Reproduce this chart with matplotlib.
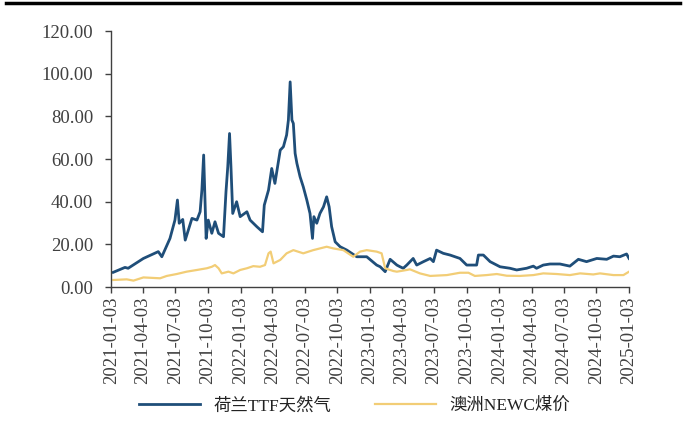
import pandas as pd
import matplotlib.pyplot as plt
import matplotlib.dates as mdates
from matplotlib.lines import Line2D

plt.rcParams['font.family'] = ['Liberation Serif', 'Noto Sans CJK SC']

# 荷兰TTF天然气
ttf_dates = [
    "2021-01-09", "2021-02-11", "2021-02-20", "2021-04-04", "2021-05-16", "2021-05-26",
    "2021-06-18", "2021-07-02", "2021-07-09", "2021-07-14", "2021-07-24", "2021-07-31",
    "2021-08-19", "2021-09-02", "2021-09-11", "2021-09-16", "2021-09-21", "2021-09-28",
    "2021-10-04", "2021-10-14", "2021-10-23", "2021-11-02", "2021-11-16", "2021-11-23",
    "2021-11-28", "2021-12-03", "2021-12-07", "2021-12-12", "2021-12-23", "2022-01-02",
    "2022-01-21", "2022-01-30", "2022-02-18", "2022-03-06", "2022-03-11", "2022-03-23",
    "2022-04-01", "2022-04-10", "2022-04-25", "2022-05-04", "2022-05-13", "2022-05-18",
    "2022-05-23", "2022-05-28", "2022-06-01", "2022-06-06", "2022-06-11", "2022-06-20",
    "2022-06-29", "2022-07-09", "2022-07-18", "2022-07-25", "2022-07-29", "2022-08-06",
    "2022-08-15", "2022-08-25", "2022-09-03", "2022-09-10", "2022-09-17", "2022-09-27",
    "2022-10-11", "2022-10-30", "2022-11-27", "2022-12-25", "2023-01-22", "2023-02-01",
    "2023-02-15", "2023-03-01", "2023-03-20", "2023-03-29", "2023-04-07", "2023-04-17",
    "2023-05-05", "2023-05-15", "2023-06-03", "2023-06-22", "2023-07-01", "2023-07-10",
    "2023-07-29", "2023-08-17", "2023-09-14", "2023-10-03", "2023-10-31", "2023-11-05",
    "2023-11-19", "2023-12-08", "2024-01-05", "2024-02-02", "2024-02-21", "2024-03-20",
    "2024-04-08", "2024-04-17", "2024-05-06", "2024-05-25", "2024-06-22", "2024-07-20",
    "2024-08-13", "2024-09-05", "2024-10-04", "2024-11-01", "2024-11-20", "2024-12-08",
    "2024-12-27", "2025-01-03",
]
ttf_values = [
    6.9, 9.2, 8.8, 13.4, 16.6, 14.2,
    22.8, 31.4, 40.8, 29.9, 31.7, 22.0,
    32.2, 31.4, 35.3, 45.5, 61.9, 22.8,
    31.4, 25.2, 30.6, 25.2, 23.6, 44.7,
    56.4, 72.0, 56.4, 34.5, 40.0, 33.0,
    35.3, 31.4, 28.3, 25.9, 38.4, 45.5,
    55.6, 48.6, 64.2, 65.8, 71.3, 78.3,
    96.2, 78.3, 76.7, 62.7, 58.0, 51.7,
    47.0, 40.8, 34.5, 22.8, 33.0, 29.9,
    34.5, 37.6, 42.3, 37.6, 28.3, 21.2,
    18.9, 17.3, 14.2, 14.2, 10.3, 9.5,
    7.2, 13.0, 10.3, 9.5, 8.8, 10.3,
    13.4, 10.3, 11.9, 13.4, 11.9, 17.3,
    15.8, 15.0, 13.4, 10.3, 10.3, 15.0,
    15.0, 11.9, 9.5, 8.8, 8.0, 8.8,
    9.8, 8.8, 10.3, 10.8, 10.8, 9.8,
    13.0, 11.9, 13.4, 13.0, 14.5, 14.2,
    15.5, 13.4,
]

# 澳洲NEWC煤价
newc_dates = [
    "2021-01-09", "2021-02-16", "2021-03-07", "2021-04-04", "2021-05-21", "2021-06-09",
    "2021-07-07", "2021-08-04", "2021-09-02", "2021-09-30", "2021-10-14", "2021-10-23",
    "2021-11-02", "2021-11-11", "2021-11-30", "2021-12-14", "2022-01-02", "2022-01-21",
    "2022-02-08", "2022-02-27", "2022-03-13", "2022-03-23", "2022-03-29", "2022-04-06",
    "2022-04-25", "2022-05-13", "2022-06-01", "2022-06-29", "2022-07-27", "2022-09-03",
    "2022-09-22", "2022-10-20", "2022-11-17", "2022-12-06", "2022-12-25", "2023-01-22",
    "2023-02-05", "2023-02-15", "2023-03-10", "2023-03-20", "2023-04-17", "2023-04-26",
    "2023-05-24", "2023-06-22", "2023-08-08", "2023-09-14", "2023-10-08", "2023-10-26",
    "2023-11-28", "2023-12-27", "2024-01-24", "2024-03-01", "2024-04-08", "2024-05-06",
    "2024-06-13", "2024-07-20", "2024-08-18", "2024-09-24", "2024-10-13", "2024-11-20",
    "2024-12-18", "2025-01-03",
]
newc_values = [
    3.3, 3.6, 3.0, 4.5, 4.1, 5.2,
    6.1, 7.2, 8.0, 8.8, 9.5, 10.3,
    8.8, 6.4, 7.2, 6.4, 8.0, 8.8,
    9.8, 9.5, 10.3, 15.8, 16.6, 11.1,
    12.7, 15.8, 17.3, 15.8, 17.3, 18.9,
    18.1, 17.3, 14.2, 16.6, 17.3, 16.6,
    15.8, 8.8, 7.5, 7.2, 8.0, 8.3,
    6.4, 5.2, 5.6, 6.7, 6.7, 5.2,
    5.6, 6.1, 5.3, 5.2, 5.6, 6.4,
    6.1, 5.6, 6.4, 5.9, 6.4, 5.6,
    5.6, 7.2,
]

ttf = pd.Series(ttf_values, index=pd.to_datetime(ttf_dates))
newc = pd.Series(newc_values, index=pd.to_datetime(newc_dates))

fig = plt.figure(figsize=(6.86, 4.45), dpi=100)
ax = fig.add_axes([0.162, 0.355, 0.755, 0.575])

ax.plot(ttf.index, ttf.values, color='#1f4e79', lw=2.0, label='荷兰TTF天然气')
ax.plot(newc.index, newc.values, color='#f2cd76', lw=1.6, label='澳洲NEWC煤价')

ax.set_xlim(pd.Timestamp("2021-01-03"), pd.Timestamp("2025-01-03"))
ax.set_ylim(0, 120)
ax.set_yticks(range(0, 121, 20))
ax.yaxis.set_major_formatter(plt.FuncFormatter(lambda v, p: f"{v:.2f}"))
ax.xaxis.set_major_locator(mdates.MonthLocator(bymonth=[1, 4, 7, 10], bymonthday=3))
ax.xaxis.set_major_formatter(mdates.DateFormatter("%Y-%m-%d"))
plt.setp(ax.get_xticklabels(), rotation=90)

for s in ['top', 'right']:
    ax.spines[s].set_visible(False)
for s in ['left', 'bottom']:
    ax.spines[s].set_color('#404040')
    ax.spines[s].set_linewidth(1.0)
ax.tick_params(axis='both', colors='#404040', labelsize=13.5, length=4, width=1.0)
ax.tick_params(axis='x', pad=3)
ax.tick_params(axis='y', pad=9)

ax.legend(loc='center', bbox_to_anchor=(0.47, -0.465), ncol=2, frameon=False,
          fontsize=12.5, handlelength=3.5, columnspacing=2.5, labelcolor='#222222')

fig.add_artist(Line2D([0.009, 0.991], [0.994, 0.994], color='black', lw=2.5,
                      transform=fig.transFigure))

fig.savefig("out.png", dpi=100)
